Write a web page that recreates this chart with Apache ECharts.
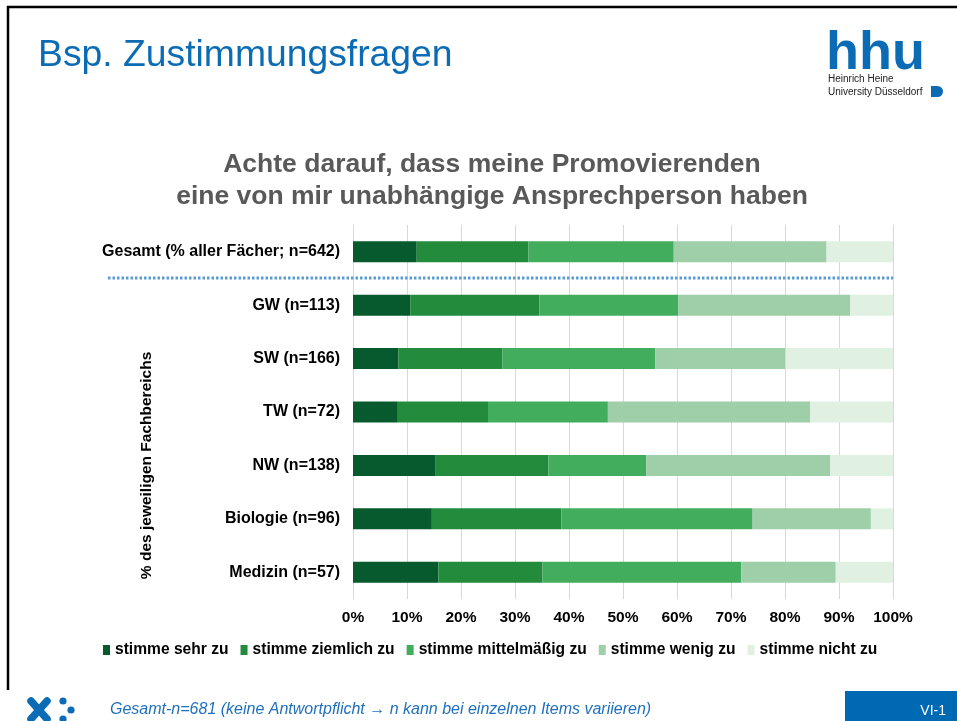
<!DOCTYPE html>
<html>
<head>
<meta charset="utf-8">
<script src="https://cdn.jsdelivr.net/npm/echarts@6/dist/echarts.min.js"></script>
<style>
  html, body { margin: 0; padding: 0; background: #fff; }
  #chart { width: 957px; height: 721px; }
</style>
</head>
<body>
<div id="chart"></div>
<script>
// Groups shown as rows (top to bottom)
const categories = [
  'Gesamt (% aller Fächer; n=642)',
  'GW (n=113)',
  'SW (n=166)',
  'TW (n=72)',
  'NW (n=138)',
  'Biologie (n=96)',
  'Medizin (n=57)'
];

// Answer levels
const seriesNames = [
  'stimme sehr zu',
  'stimme ziemlich zu',
  'stimme mittelmäßig zu',
  'stimme wenig zu',
  'stimme nicht zu'
];

// Percent of each group per answer level
const sehrZu      = [11.8, 10.6,  8.4,  8.3, 15.2, 14.6, 15.8];
const ziemlichZu  = [20.7, 23.9, 19.3, 16.7, 21.0, 24.0, 19.3];
const mittelZu    = [26.9, 25.7, 28.3, 22.2, 18.1, 35.4, 36.8];
const wenigZu     = [28.3, 31.9, 24.1, 37.5, 34.1, 21.9, 17.5];
const nichtZu     = [12.3,  7.9, 19.9, 15.3, 11.6,  4.1, 10.6];

const xTicks = [0, 10, 20, 30, 40, 50, 60, 70, 80, 90, 100];

const seriesValues = [sehrZu, ziemlichZu, mittelZu, wenigZu, nichtZu];
const greens = ['#065a2d', '#228b3c', '#42ae5d', '#9ecfa8', '#e0f1e1'];

const FONT = '"Liberation Sans", Arial, sans-serif';
const BLUE = '#0b6cb5';

const chart = echarts.init(document.getElementById('chart'), null, { renderer: 'canvas' });

const option = {
  backgroundColor: '#ffffff',
  animation: false,
  textStyle: { fontFamily: FONT },
  title: {
    text: 'Achte darauf, dass meine Promovierenden\neine von mir unabhängige Ansprechperson haben',
    left: 487,
    textAlign: 'center',
    top: 144,
    textStyle: {
      fontFamily: FONT,
      fontSize: 26.5,
      fontWeight: 'bold',
      color: '#595959',
      lineHeight: 32
    }
  },
  legend: {
    data: seriesNames,
    left: 98,
    top: 637,
    itemWidth: 7,
    itemHeight: 10,
    itemGap: 12,
    icon: 'rect',
    textStyle: {
      fontFamily: FONT,
      fontSize: 15.6,
      fontWeight: 'bold',
      color: '#000'
    }
  },
  grid: {
    left: 353,
    right: 64,
    top: 225,
    bottom: 122,
    containLabel: false
  },
  xAxis: {
    type: 'value',
    min: 0,
    max: 100,
    interval: 10,
    axisLine: { show: false },
    axisTick: { show: false },
    splitLine: { show: true, lineStyle: { color: '#d9d9d9', width: 1 } },
    axisLabel: {
      margin: 11,
      fontFamily: FONT,
      fontSize: 15.5,
      fontWeight: 'bold',
      color: '#000',
      formatter: function (v) { return xTicks.indexOf(v) >= 0 ? v + '%' : ''; }
    }
  },
  yAxis: {
    type: 'category',
    data: categories,
    inverse: true,
    axisLine: { show: true, lineStyle: { color: '#d9d9d9', width: 1 } },
    axisTick: { show: false },
    axisLabel: {
      margin: 13,
      fontFamily: FONT,
      fontSize: 16,
      fontWeight: 'bold',
      color: '#000'
    }
  },
  series: seriesNames.map(function (name, i) {
    return {
      name: name,
      type: 'bar',
      stack: 'total',
      barWidth: 21,
      data: seriesValues[i],
      itemStyle: { color: greens[i] },
      emphasis: { disabled: true }
    };
  })
};

chart.setOption(option);

// Divider between the overall row and the subject rows
const y0 = chart.convertToPixel({ yAxisIndex: 0 }, categories[0]);
const y1 = chart.convertToPixel({ yAxisIndex: 0 }, categories[1]);
const yDiv = Math.round((y0 + y1) / 2);
const xEnd = chart.convertToPixel({ xAxisIndex: 0 }, 100);

// axis title sits level with the NW row
const yNameCenter = chart.convertToPixel({ yAxisIndex: 0 }, categories[4]);

chart.setOption({
  graphic: [
    // slide frame
    { type: 'line', shape: { x1: 7, y1: 7, x2: 957, y2: 7 }, style: { stroke: '#000', lineWidth: 2.5 } },
    { type: 'line', shape: { x1: 8, y1: 6, x2: 8, y2: 690 }, style: { stroke: '#000', lineWidth: 2.5 } },
    // slide heading
    {
      type: 'text', left: 38, top: 37,
      style: { text: 'Bsp. Zustimmungsfragen', fill: BLUE, font: '37.3px ' + FONT }
    },
    // university logo
    {
      type: 'text', left: 826, top: 27,
      style: { text: 'hhu', fill: BLUE, font: 'bold 54px ' + FONT }
    },
    {
      type: 'text', left: 828, top: 74,
      style: { text: 'Heinrich Heine', fill: '#222', font: '10px ' + FONT }
    },
    {
      type: 'text', left: 828, top: 87,
      style: { text: 'University Düsseldorf', fill: '#222', font: '10px ' + FONT }
    },
    {
      type: 'rect', shape: { x: 931, y: 86, width: 12, height: 11, r: [0, 5.5, 5.5, 0] },
      style: { fill: BLUE }
    },
    // axis title
    {
      type: 'text', x: 147, y: yNameCenter, rotation: Math.PI / 2,
      style: {
        text: '% des jeweiligen Fachbereichs', fill: '#000',
        font: 'bold 15.5px ' + FONT, align: 'center', verticalAlign: 'middle'
      }
    },
    // dotted divider
    {
      type: 'line', z: 10,
      shape: { x1: 108, y1: yDiv, x2: xEnd, y2: yDiv },
      style: { stroke: '#5b9bd5', lineWidth: 3, lineDash: [2.5, 2] }
    },
    // footer mark
    {
      type: 'line', shape: { x1: 31, y1: 701, x2: 47, y2: 719 },
      style: { stroke: BLUE, lineWidth: 7.5, lineCap: 'round' }
    },
    {
      type: 'line', shape: { x1: 47, y1: 701, x2: 31, y2: 719 },
      style: { stroke: BLUE, lineWidth: 7.5, lineCap: 'round' }
    },
    { type: 'circle', shape: { cx: 63, cy: 701, r: 3.6 }, style: { fill: BLUE } },
    { type: 'circle', shape: { cx: 71, cy: 710, r: 3.6 }, style: { fill: BLUE } },
    { type: 'circle', shape: { cx: 63, cy: 719, r: 3.6 }, style: { fill: BLUE } },
    // footer note
    {
      type: 'text', x: 110, y: 710,
      style: {
        text: 'Gesamt-n=681 (keine Antwortpflicht \u2192 n kann bei einzelnen Items variieren)',
        fill: '#1f6fbf', font: 'italic 16px ' + FONT, verticalAlign: 'middle'
      }
    },
    // page badge
    { type: 'rect', shape: { x: 845, y: 691, width: 112, height: 30 }, style: { fill: '#0069b4' } },
    {
      type: 'text', x: 946, y: 711,
      style: { text: 'VI-1', fill: '#fff', font: '14px ' + FONT, align: 'right', verticalAlign: 'middle' }
    }
  ]
});
</script>
</body>
</html>
